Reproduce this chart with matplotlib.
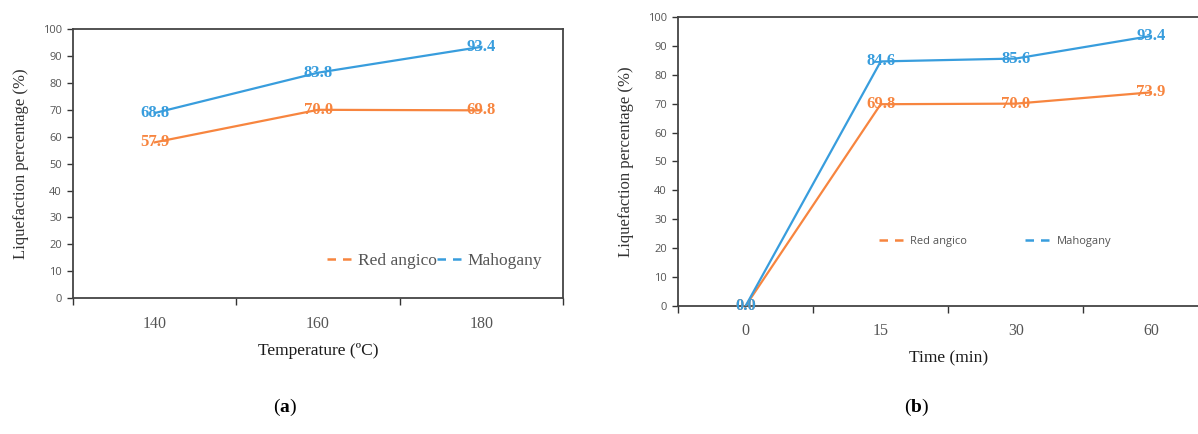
import matplotlib.pyplot as plt
from matplotlib.ticker import FixedLocator, NullFormatter

# panel (a): temperature series
temps = ["140", "160", "180"]
red_temp = [57.9, 70.0, 69.8]
mah_temp = [68.8, 83.8, 93.4]

# panel (b): time series
times = ["0", "15", "30", "60"]
red_time = [0.0, 69.8, 70.0, 73.9]
mah_time = [0.0, 84.6, 85.6, 93.4]

ORANGE = "#F7853F"
BLUE = "#389DDD"
SERIF = "Liberation Serif"
SANS = "Open Sans"

plt.rcParams["mathtext.fontset"] = "custom"
plt.rcParams["mathtext.rm"] = SERIF
plt.rcParams["mathtext.bf"] = SERIF + ":bold"


def panel(ax, cats, red, mah, xlabel, leg_font, leg_size, hlen, col_space):
    xs = range(len(cats))
    ax.plot(xs, red, color=ORANGE, lw=1.6, label="Red angico", zorder=3)
    ax.plot(xs, mah, color=BLUE, lw=1.6, label="Mahogany", zorder=3)
    for x, v in zip(xs, red):
        ax.text(x, v, f"{v:.1f}", color=ORANGE, ha="center", va="center",
                family=SERIF, fontsize=12, weight="bold", zorder=4)
    for x, v in zip(xs, mah):
        ax.text(x, v, f"{v:.1f}", color=BLUE, ha="center", va="center",
                family=SERIF, fontsize=12, weight="bold", zorder=4)

    ax.set_xlim(-0.5, len(cats) - 0.5)
    ax.set_ylim(0, 100)
    ax.xaxis.set_major_locator(FixedLocator([i - 0.5 for i in range(len(cats) + 1)]))
    ax.xaxis.set_major_formatter(NullFormatter())
    ax.xaxis.set_minor_locator(FixedLocator(list(xs)))
    ax.set_xticklabels(cats, minor=True)
    ax.tick_params(axis="x", which="major", length=5, width=1, color="#333333")
    ax.tick_params(axis="x", which="minor", length=0, pad=12.5, labelsize=11.5,
                   labelcolor="#555555")
    for t in ax.get_xticklabels(minor=True):
        t.set_family(SERIF)
    ax.set_yticks(range(0, 101, 10))
    ax.tick_params(axis="y", length=4, width=1, color="#333333", labelsize=8,
                   labelcolor="#555555", pad=4)
    for t in ax.get_yticklabels():
        t.set_family(SANS)
    for s in ax.spines.values():
        s.set_color("#444444")
        s.set_linewidth(1.3)

    ax.set_xlabel(xlabel, family=SERIF, fontsize=12.5, color="#1a1a1a", labelpad=8)
    ax.set_ylabel("Liquefaction percentage (%)", family=SERIF, fontsize=12,
                  color="#333333", labelpad=10)
    leg = ax.legend(loc="lower right", ncol=2, frameon=False,
                    prop={"family": leg_font, "size": leg_size},
                    handlelength=hlen, handletextpad=0.05, columnspacing=col_space,
                    labelcolor="#555555")
    for h in leg.get_lines():
        h.set_linestyle((0, (3.4, 2.8)))
        h.set_linewidth(1.8)
    return leg


fig = plt.figure(figsize=(11.98, 4.34), dpi=100)

ax1 = fig.add_axes([0.061, 0.313, 0.409, 0.620])
leg1 = panel(ax1, temps, red_temp, mah_temp, "Temperature (ºC)", SERIF, 12.5, 1.75, 0.0)
leg1.set_bbox_to_anchor((0.99, 0.05), transform=ax1.transAxes)

ax2 = fig.add_axes([0.566, 0.295, 0.451, 0.666])
leg2 = panel(ax2, times, red_time, mah_time, "Time (min)", SANS, 8, 2.8, 5.2)
leg2.set_bbox_to_anchor((0.82, 0.17), transform=ax2.transAxes)

fig.text(0.238, 0.062, r"($\mathbf{a}$)", family=SERIF, fontsize=14, ha="center", va="center")
fig.text(0.765, 0.062, r"($\mathbf{b}$)", family=SERIF, fontsize=14, ha="center", va="center")

fig.savefig("out.png", dpi=100)
